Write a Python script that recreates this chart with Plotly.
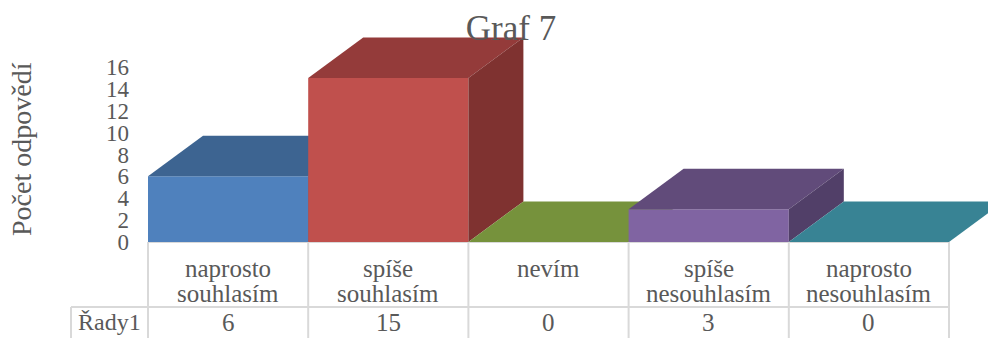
import plotly.graph_objects as go

# Survey answers and counts
categories = ["naprosto souhlasím", "spíše souhlasím", "nevím",
              "spíše nesouhlasím", "naprosto nesouhlasím"]
values = [6, 15, 0, 3, 0]
series_name = "Řady1"
y_ticks = [0, 2, 4, 6, 8, 10, 12, 14, 16]
title_text = "Graf 7"
y_title = "Počet odpovědí"

# Face colours: front, top, side
front_cols = ["#4F81BD", "#C0504D", "#9BBB59", "#8064A2", "#4BACC6"]
top_cols = ["#3D6491", "#943B3A", "#76923C", "#614B7A", "#388394"]
side_cols = ["#2F4E73", "#7F3230", "#5E7530", "#513F68", "#2C6A78"]

W, H = 988, 338
# pixel geometry of the plotting frame
X0_PX, PX_PER_CAT = 148.0, 160.2
Y0_PX, PX_PER_UNIT = 242.0, 10.94
DX = 55.0 / PX_PER_CAT          # depth offset (category units)
DY = 40.5 / PX_PER_UNIT         # depth offset (value units)


def px_x(p):
    return (p - X0_PX) / PX_PER_CAT


def px_y(p):
    return (Y0_PX - p) / PX_PER_UNIT


FONT = "Liberation Serif"
TXT = "#595959"
GRID = "#D9D9D9"

fig = go.Figure()

for i, v in enumerate(values):
    faces = [
        ([i, i + 1, i + 1, i], [0, 0, v, v], front_cols[i]),
        ([i, i + 1, i + 1 + DX, i + DX], [v, v, v + DY, v + DY], top_cols[i]),
        ([i + 1, i + 1 + DX, i + 1 + DX, i + 1], [0, DY, v + DY, v], side_cols[i]),
    ]
    for xs, ys, col in faces:
        fig.add_trace(go.Scatter(
            x=xs + [xs[0]], y=ys + [ys[0]], mode="lines", fill="toself",
            fillcolor=col, line=dict(width=0), hoverinfo="skip",
            showlegend=False))

# Data table grid
n = len(categories)
y_bot = px_y(H + 2)
y_row = px_y(307)
x_left = px_x(71)
shape_line = dict(color=GRID, width=2)
for k in range(n + 1):
    fig.add_shape(type="line", x0=k, x1=k, y0=0, y1=y_bot, line=shape_line,
                  layer="below")
fig.add_shape(type="line", x0=0, x1=n, y0=0, y1=0, line=shape_line, layer="below")
fig.add_shape(type="line", x0=x_left, x1=n, y0=y_row, y1=y_row, line=shape_line,
              layer="below")
fig.add_shape(type="line", x0=x_left, x1=x_left, y0=y_row, y1=y_bot,
              line=shape_line, layer="below")

tfont = dict(family=FONT, size=25, color=TXT)
line_y = [px_y(268), px_y(293)]
for i, cat in enumerate(categories):
    parts = cat.split(" ", 1)
    for j, part in enumerate(parts):
        fig.add_annotation(x=i + 0.5, y=line_y[j], text=part, showarrow=False,
                           font=tfont, xanchor="center", yanchor="middle")
    fig.add_annotation(x=i + 0.5, y=px_y(322), text=str(values[i]),
                       showarrow=False, font=tfont, xanchor="center",
                       yanchor="middle")
fig.add_annotation(x=px_x(76), y=px_y(322), text=series_name, showarrow=False,
                   font=dict(family=FONT, size=24, color=TXT),
                   xanchor="left", yanchor="middle")

# Axis title
fig.add_annotation(x=22 / W, y=1 - 149 / H, xref="paper", yref="paper",
                   text=y_title, textangle=-90, showarrow=False,
                   font=dict(family=FONT, size=28, color=TXT),
                   xanchor="center", yanchor="middle")

fig.update_layout(
    width=W, height=H,
    margin=dict(l=0, r=0, t=0, b=0),
    paper_bgcolor="white", plot_bgcolor="white",
    title=dict(text=title_text, x=511 / W, y=1 - 28 / H,
               xanchor="center", yanchor="middle",
               font=dict(family=FONT, size=35, color=TXT)),
    xaxis=dict(range=[px_x(0), px_x(W)], visible=False, fixedrange=True),
    yaxis=dict(range=[px_y(H), px_y(0)], showgrid=False, zeroline=False,
               showline=False, ticks="", tickvals=y_ticks,
               ticktext=[str(t) for t in y_ticks],
               anchor="free", position=X0_PX / W, side="left",
               ticklabelstandoff=19,
               tickfont=dict(family=FONT, size=23, color=TXT),
               fixedrange=True),
    showlegend=False,
)

fig.write_html("out.html")
